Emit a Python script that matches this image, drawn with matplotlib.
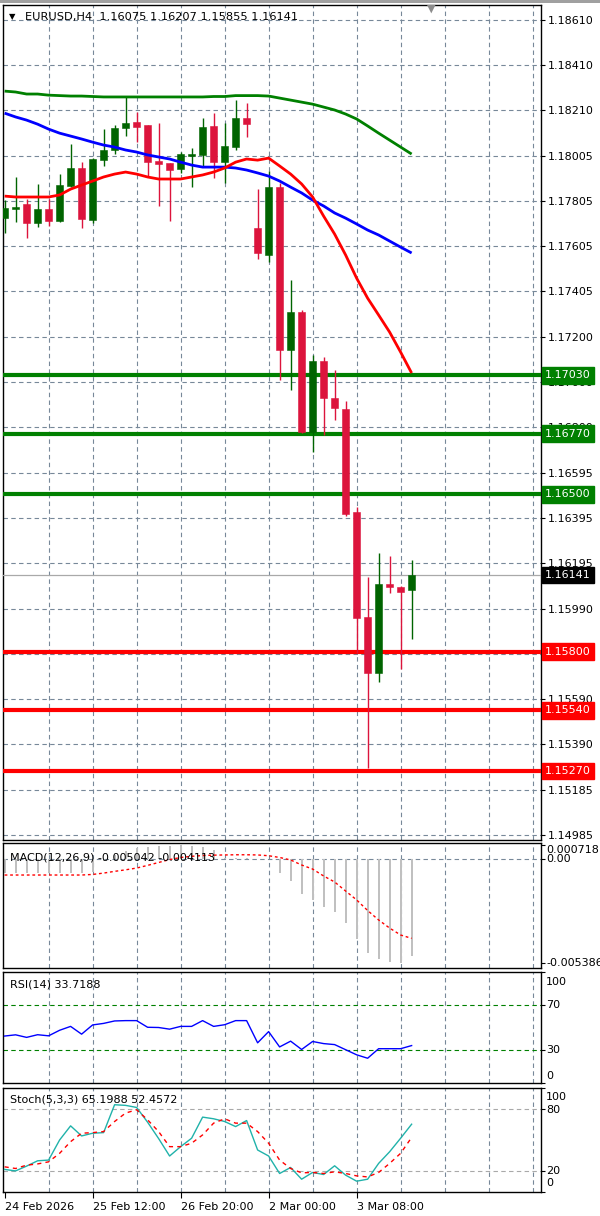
import matplotlib
matplotlib.use('Agg')
import matplotlib.pyplot as plt
import numpy as np
from matplotlib.transforms import blended_transform_factory
from matplotlib.patches import Rectangle

plt.rcParams['font.family'] = ['DejaVu Sans']
plt.rcParams['font.size'] = 8

# ---------------- data ----------------
symbol_title = "EURUSD,H4  1.16075 1.16207 1.15855 1.16141"
date_labels = ["24 Feb 2026", "25 Feb 12:00", "26 Feb 20:00", "2 Mar 00:00", "3 Mar 08:00"]
date_label_pos = [0, 8, 16, 24, 32]

opens = [1.17729, 1.17769, 1.17792, 1.17707, 1.17769, 1.17716, 1.17872, 1.17952, 1.17720, 1.17987,
         1.18032, 1.18130, 1.18156, 1.18143, 1.17983, 1.17974, 1.17947, 1.18005, 1.18010, 1.18139,
         1.17978, 1.18045, 1.18174, 1.17685, 1.17565, 1.17867, 1.17142, 1.17311, 1.16777, 1.17093,
         1.16929, 1.16880, 1.16422, 1.15955, 1.15706, 1.16101, 1.16088, 1.16075]
highs = [1.17809, 1.17912, 1.17814, 1.17881, 1.17814, 1.17925, 1.18058, 1.17978, 1.17996, 1.18125,
         1.18143, 1.18268, 1.18201, 1.18143, 1.18152, 1.17974, 1.18023, 1.18041, 1.18174, 1.18196,
         1.18152, 1.18254, 1.18241, 1.17858, 1.17938, 1.17885, 1.17454, 1.17320, 1.17120, 1.17111,
         1.17053, 1.16915, 1.16444, 1.16133, 1.16239, 1.16226, 1.16092, 1.16207]
lows = [1.17663, 1.17712, 1.17640, 1.17689, 1.17694, 1.17712, 1.17867, 1.17685, 1.17707, 1.17961,
        1.18014, 1.18094, 1.18067, 1.17912, 1.17783, 1.17716, 1.17930, 1.17867, 1.17956, 1.17907,
        1.17885, 1.18032, 1.18090, 1.17547, 1.17534, 1.17009, 1.16964, 1.16773, 1.16688, 1.16764,
        1.16831, 1.16404, 1.15794, 1.15283, 1.15665, 1.16061, 1.15723, 1.15855]
closes = [1.17774, 1.17778, 1.17707, 1.17769, 1.17716, 1.17876, 1.17952, 1.17725, 1.17992, 1.18032,
          1.18130, 1.18152, 1.18134, 1.17978, 1.17970, 1.17943, 1.18014, 1.18014, 1.18134, 1.17978,
          1.18050, 1.18174, 1.18147, 1.17574, 1.17867, 1.17142, 1.17311, 1.16777, 1.17093, 1.16929,
          1.16884, 1.16413, 1.15950, 1.15706, 1.16101, 1.16088, 1.16068, 1.16141]

ma_green = [1.18294, 1.18290, 1.18281, 1.18281, 1.18276, 1.18274, 1.18272, 1.18272, 1.18270, 1.18268,
            1.18268, 1.18268, 1.18268, 1.18268, 1.18268, 1.18268, 1.18268, 1.18268, 1.18268, 1.18270,
            1.18270, 1.18274, 1.18274, 1.18274, 1.18272, 1.18263, 1.18254, 1.18245, 1.18236, 1.18223,
            1.18210, 1.18192, 1.18170, 1.18139, 1.18107, 1.18076, 1.18045, 1.18014]
ma_blue = [1.18196, 1.18179, 1.18165, 1.18147, 1.18125, 1.18107, 1.18094, 1.18081, 1.18067, 1.18054,
           1.18045, 1.18032, 1.18023, 1.18010, 1.18001, 1.17992, 1.17978, 1.17965, 1.17956, 1.17956,
           1.17956, 1.17952, 1.17943, 1.17930, 1.17916, 1.17894, 1.17867, 1.17841, 1.17809, 1.17783,
           1.17752, 1.17729, 1.17703, 1.17676, 1.17654, 1.17627, 1.17600, 1.17574]
ma_red = [1.17827, 1.17823, 1.17823, 1.17823, 1.17823, 1.17832, 1.17858, 1.17876, 1.17894, 1.17912,
          1.17925, 1.17934, 1.17925, 1.17912, 1.17903, 1.17903, 1.17903, 1.17912, 1.17921, 1.17934,
          1.17952, 1.17978, 1.17992, 1.17987, 1.17996, 1.17961, 1.17925, 1.17881, 1.17823, 1.17738,
          1.17658, 1.17565, 1.17462, 1.17373, 1.17298, 1.17222, 1.17133, 1.17040]

price_ticks = [1.18610, 1.18410, 1.18210, 1.18005, 1.17805, 1.17605, 1.17405, 1.17200, 1.17000, 1.16800,
               1.16595, 1.16395, 1.16195, 1.15990, 1.15790, 1.15590, 1.15390, 1.15185, 1.14985]
resist_levels = [1.17030, 1.16770, 1.16500]
support_levels = [1.15800, 1.15540, 1.15270]
last_price = 1.16141

macd_main = [-0.00072, -0.00074, -0.00075, -0.00075, -0.00074, -0.00072, -0.00070, -0.00072, -0.00068, -0.00010,
             0.00020, 0.00040, 0.00055, 0.00060, 0.00065, 0.00070, 0.000718, 0.00065, 0.00060, 0.00045,
             0.00005, 0.00005, 0.00003, 0.00002, 0.00001, -0.00074, -0.00112, -0.00183, -0.00212, -0.00247,
             -0.00276, -0.00333, -0.00415, -0.00489, -0.00518, -0.00532, -0.005386, -0.005042]
macd_signal = [-0.00083, -0.00083, -0.00083, -0.00083, -0.00083, -0.00083, -0.00083, -0.00083, -0.00080, -0.00073,
               -0.00064, -0.00056, -0.00047, -0.00033, -0.00018, -0.00003, 0.00008, 0.00014, 0.00018, 0.00020,
               0.00021, 0.00022, 0.00022, 0.00021, 0.00017, 0.00008, -0.00005, -0.00031, -0.00052, -0.00088,
               -0.00119, -0.00166, -0.00212, -0.00267, -0.00316, -0.00358, -0.00394, -0.004113]

rsi = [42.3, 43.4, 41.1, 43.5, 42.5, 47.5, 51.0, 44.0, 52.3, 53.7,
       55.9, 56.2, 56.2, 50.2, 50.0, 48.5, 51.0, 51.0, 56.2, 51.0,
       52.5, 56.2, 56.2, 36.2, 46.3, 32.5, 37.7, 30.2, 37.4, 35.5,
       34.6, 30.0, 25.4, 22.3, 30.9, 30.9, 30.9, 33.7188]

stoch_main = [21.7, 20.3, 24.9, 30.0, 30.7, 50.0, 63.6, 53.9, 56.5, 57.1,
              83.9, 83.3, 81.3, 67.1, 51.4, 34.6, 43.6, 51.7, 72.0, 70.4,
              67.8, 62.9, 68.7, 40.4, 34.6, 17.8, 23.6, 12.3, 18.8, 16.8,
              25.2, 16.2, 10.4, 12.3, 27.5, 38.7, 51.7, 65.1988]
stoch_signal = [24.2, 22.6, 25.8, 27.0, 29.0, 37.2, 48.4, 56.5, 57.1, 58.1,
                67.8, 75.9, 79.1, 69.4, 58.1, 43.6, 43.6, 46.9, 54.9, 66.2,
                70.4, 66.2, 66.2, 58.1, 46.9, 30.7, 22.6, 18.4, 18.8, 17.8,
                19.4, 17.8, 15.5, 14.5, 18.8, 27.5, 37.2, 52.4572]

# ---------------- layout ----------------
W, H = 600, 1216
fig = plt.figure(figsize=(W / 100, H / 100), dpi=100)
fig.patch.set_facecolor('white')


def add_panel(top, bottom, left=3, right=541):
    return fig.add_axes([left / W, 1 - bottom / H, (right - left) / W, (bottom - top) / H])


ax = add_panel(5, 840)
axm = add_panel(843, 968)
axr = add_panel(972, 1083)
axs = add_panel(1088, 1192)

GRID = '#778899'
DASH = (0, (4, 3))
BULL = '#006400'
BEAR = '#DC143C'
LVL_GREEN = '#008000'
LVL_RED = '#FF0000'

n = len(opens)
x = np.arange(n)
XLIM = (-0.145, 48.76)
vgrid = np.arange(4, 49, 4)
LABEL_X = 1.0093  # axes fraction for right-side labels

for a in (ax, axm, axr, axs):
    a.set_xlim(*XLIM)
    a.set_facecolor('white')
    for s in a.spines.values():
        s.set_color('black')
        s.set_linewidth(1)
    for v in vgrid:
        a.axvline(v, color=GRID, ls=DASH, lw=0.8, zorder=1)
    a.yaxis.tick_right()
    a.tick_params(axis='y', length=3, pad=2, labelsize=8, colors='black', width=0.8)
    a.set_xticks([])

# ---------------- main chart ----------------
ax.set_ylim(1.14963, 1.18677)
for p in price_ticks:
    ax.axhline(p, color=GRID, ls=DASH, lw=0.8, zorder=1)
ax.set_yticks(price_ticks)
ax.set_yticklabels([f"{p:.5f}" for p in price_ticks])

o = np.array(opens); c = np.array(closes); h = np.array(highs); l = np.array(lows)
up = c >= o
cols = np.where(up, BULL, BEAR)
for lv in resist_levels:
    ax.axhline(lv, color=LVL_GREEN, lw=3.0, zorder=3)
for lv in support_levels:
    ax.axhline(lv, color=LVL_RED, lw=3.0, zorder=3)
ax.axhline(last_price, color='#A9A9A9', lw=0.9, zorder=3)

ax.vlines(x, l, h, colors=cols, lw=1.0, zorder=4)
body_bot = np.minimum(o, c)
body_h = np.maximum(np.abs(c - o), 0.00004)
ax.bar(x, body_h, bottom=body_bot, width=0.62, color=cols, edgecolor=cols, lw=0.4, zorder=5)

ax.plot(x, ma_green, color='#008000', lw=2.0, zorder=6, solid_capstyle='butt')
ax.plot(x, ma_blue, color='#0000FF', lw=2.0, zorder=6, solid_capstyle='butt')
ax.plot(x, ma_red, color='#FF0000', lw=2.0, zorder=6, solid_capstyle='butt')

tr = blended_transform_factory(ax.transAxes, ax.transData)
BOX = 'square,pad=0.3'
for lv in resist_levels:
    ax.text(LABEL_X - 0.0015, lv, f"{lv:.5f}", transform=tr, color='white', ha='left', va='center',
            fontsize=8, zorder=10, clip_on=False,
            bbox=dict(boxstyle=BOX, fc=LVL_GREEN, ec=LVL_GREEN))
for lv in support_levels:
    ax.text(LABEL_X - 0.0015, lv, f"{lv:.5f}", transform=tr, color='white', ha='left', va='center',
            fontsize=8, zorder=10, clip_on=False,
            bbox=dict(boxstyle=BOX, fc=LVL_RED, ec=LVL_RED))
ax.text(LABEL_X - 0.0015, last_price, f"{last_price:.5f}", transform=tr, color='white', ha='left',
        va='center', fontsize=8, zorder=10, clip_on=False,
        bbox=dict(boxstyle=BOX, fc='black', ec='black'))

fig.text(9 / W, 1 - 17 / H, "▼", fontsize=6, va='center', ha='left', color='black')
fig.text(25 / W, 1 - 17 / H, symbol_title, fontsize=8.2, va='center', ha='left', color='black')
fig.text(431 / W, 1 - 9 / H, "▼", fontsize=8, va='center', ha='center', color='#8C8C8C')
fig.add_artist(Rectangle((0, 1 - 3 / H), 1, 3 / H, transform=fig.transFigure, color='#A0A0A0', lw=0))

# ---------------- MACD ----------------
axm.set_ylim(-0.00565, 0.00083)
axm.axhline(0, color=GRID, ls=DASH, lw=0.8, zorder=1)
axm.bar(x, macd_main, width=0.17, color='#C0C0C0', zorder=2)
axm.plot(x, macd_signal, color='#FF0000', ls=(0, (2, 2)), lw=1.0, zorder=3)
axm.set_yticks([0.000718, 0.0, -0.005386])
axm.set_yticklabels([])
trm = blended_transform_factory(axm.transAxes, axm.transData)
axm.text(LABEL_X, 0.000718, "0.000718", transform=trm, ha='left', va='top', fontsize=8, clip_on=False)
axm.text(LABEL_X, 0.0, "0.00", transform=trm, ha='left', va='center', fontsize=8, clip_on=False)
axm.text(LABEL_X, -0.005386, "-0.005386", transform=trm, ha='left', va='center', fontsize=8, clip_on=False)
axm.text(0.013, 0.888, "MACD(12,26,9) -0.005042 -0.004113", transform=axm.transAxes,
         ha='left', va='center', fontsize=8, zorder=10)

# ---------------- RSI ----------------
axr.set_ylim(0, 100)
axr.axhline(70, color=LVL_GREEN, ls=DASH, lw=0.8, zorder=1)
axr.axhline(30, color=LVL_GREEN, ls=DASH, lw=0.8, zorder=1)
axr.plot(x, rsi, color='#0000FF', lw=1.0, zorder=3)
axr.set_yticks([100, 70, 30, 0])
axr.set_yticklabels([])
trr = blended_transform_factory(axr.transAxes, axr.transData)
for val, lab in [(91, "100"), (70, "70"), (30, "30"), (6.4, "0")]:
    axr.text(LABEL_X, val, lab, transform=trr, ha='left', va='center', fontsize=8, clip_on=False)
axr.text(0.013, 0.883, "RSI(14) 33.7188", transform=axr.transAxes, ha='left', va='center', fontsize=8)

# ---------------- Stochastic ----------------
axs.set_ylim(0, 100)
axs.axhline(80, color='#A9A9A9', ls=DASH, lw=0.8, zorder=1)
axs.axhline(20, color='#A9A9A9', ls=DASH, lw=0.8, zorder=1)
axs.plot(x, stoch_main, color='#20B2AA', lw=1.0, zorder=3)
axs.plot(x, stoch_signal, color='#FF0000', ls=(0, (3, 3)), lw=1.0, zorder=3)
axs.set_yticks([100, 80, 20, 0])
axs.set_yticklabels([])
trs = blended_transform_factory(axs.transAxes, axs.transData)
for val, lab in [(91, "100"), (79, "80"), (20.5, "20"), (8.7, "0")]:
    axs.text(LABEL_X, val, lab, transform=trs, ha='left', va='center', fontsize=8, clip_on=False)
axs.text(0.013, 0.885, "Stoch(5,3,3) 65.1988 52.4572", transform=axs.transAxes, ha='left', va='center', fontsize=8)

axs.set_xticks(date_label_pos)
axs.set_xticklabels(date_labels, ha='left', fontsize=8)
axs.tick_params(axis='x', length=4, pad=3, width=0.8)

fig.savefig('out.png', dpi=100, facecolor='white')
